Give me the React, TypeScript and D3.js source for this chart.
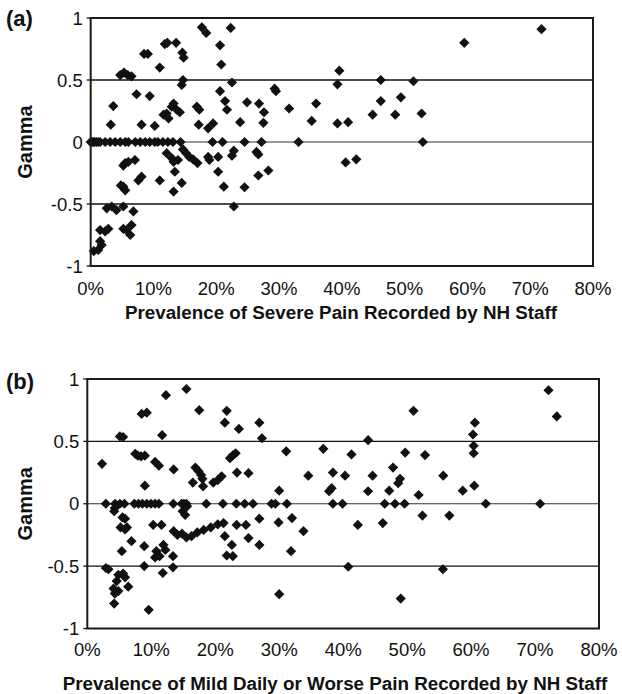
import React, { useRef, useEffect } from "react";
import * as d3 from "d3";

// [prevalence %, gamma]
const severePoints: [number, number][] = [
  [17.7, 0.925], [18.4, 0.88], [22.3, 0.92], [20.6, 0.78], [20.8, 0.625],
  [11.8, 0.79], [12.2, 0.8], [13.6, 0.8], [14.6, 0.72], [14.8, 0.68],
  [8.5, 0.71], [9.1, 0.71], [11.0, 0.6],
  [4.7, 0.54], [5.3, 0.56], [5.9, 0.54], [6.5, 0.53],
  [14.7, 0.5], [14.5, 0.46], [22.5, 0.48],
  [7.3, 0.385], [9.4, 0.37], [3.6, 0.29],
  [20.6, 0.41], [21.4, 0.33], [21.7, 0.26], [24.9, 0.32], [26.8, 0.31], [27.6, 0.24],
  [29.3, 0.43], [29.5, 0.41], [31.6, 0.27], [16.9, 0.285], [17.3, 0.26],
  [11.6, 0.22], [12.1, 0.23], [12.4, 0.19], [12.9, 0.285], [13.2, 0.31], [13.7, 0.26], [14.2, 0.24],
  [3.2, 0.14], [8.1, 0.14], [10.2, 0.13], [17.2, 0.14], [18.7, 0.11], [19.5, 0.15],
  [23.8, 0.16], [27.5, 0.155], [35.2, 0.17], [35.9, 0.31],
  [71.8, 0.91], [59.5, 0.8], [39.6, 0.575], [39.3, 0.465], [46.2, 0.5], [51.4, 0.49],
  [39.3, 0.15], [41.0, 0.16], [44.9, 0.22], [46.2, 0.33], [48.5, 0.22], [49.4, 0.36], [52.7, 0.23],
  [0, 0], [0.2, 0], [0.4, 0], [0.6, 0], [0.9, 0], [1.2, 0], [1.5, 0], [2.3, 0], [3.1, 0],
  [3.9, 0], [4.7, 0], [5.5, 0], [6.0, 0], [7.1, 0], [7.9, 0], [8.7, 0], [9.4, 0], [10.2, 0],
  [10.7, 0], [11.5, 0], [12.3, 0], [13.1, 0], [14.3, 0], [19.4, 0], [21.0, 0], [24.5, 0],
  [27.2, 0], [33.1, 0], [52.9, 0],
  [14.7, -0.06], [15.2, -0.09], [15.7, -0.12], [16.3, -0.14], [17.0, -0.17],
  [12.1, -0.09], [12.9, -0.13], [13.2, -0.16], [13.9, -0.145], [13.4, -0.24],
  [14.5, -0.33], [13.2, -0.4], [11.0, -0.31],
  [5.2, -0.19], [5.5, -0.17], [6.0, -0.16], [7.05, -0.145], [8.1, -0.28], [7.6, -0.31],
  [5.2, -0.36], [5.5, -0.39], [4.8, -0.35],
  [18.7, -0.12], [18.9, -0.145], [20.3, -0.12], [20.3, -0.24], [21.2, -0.36],
  [22.5, -0.11], [22.8, -0.07], [22.8, -0.52], [24.5, -0.365],
  [26.4, -0.08], [26.7, -0.1], [26.7, -0.27], [28.3, -0.23],
  [2.55, -0.535], [3.35, -0.52], [4.1, -0.55], [5.2, -0.52], [6.8, -0.56],
  [1.5, -0.71], [2.3, -0.72], [2.8, -0.7], [5.2, -0.7], [5.7, -0.71], [6.3, -0.75], [6.5, -0.67],
  [1.2, -0.87], [1.75, -0.83], [1.5, -0.8], [0.5, -0.88],
  [40.6, -0.165], [42.3, -0.14],
];

// [prevalence %, gamma]
const mildPoints: [number, number][] = [
  [2.3, 0.32], [5.1, 0.54], [5.6, 0.535], [8.5, 0.72], [9.3, 0.73],
  [7.5, 0.4], [7.9, 0.385], [8.4, 0.38], [9.0, 0.385], [10.6, 0.335], [11.2, 0.305],
  [13.5, 0.275], [9.0, 0.145], [11.7, 0.55], [12.3, 0.87], [15.5, 0.92], [17.5, 0.75],
  [16.9, 0.29], [17.4, 0.26], [17.8, 0.23], [16.5, 0.17], [18.1, 0.14], [18.0, 0.2],
  [19.7, 0.17], [20.4, 0.19], [21.0, 0.22],
  [21.8, 0.745], [21.5, 0.65], [23.7, 0.6], [26.9, 0.65], [27.3, 0.525],
  [22.3, 0.365], [22.8, 0.39], [23.2, 0.405], [23.4, 0.25], [25.2, 0.245],
  [30.0, 0.105], [31.1, 0.42], [34.55, 0.225], [36.9, 0.44], [38.4, 0.25], [40.3, 0.225],
  [37.8, 0.1], [38.2, 0.125], [41.3, 0.395], [43.9, 0.51], [43.9, 0.1], [44.6, 0.225],
  [47.8, 0.29], [47.2, 0.105], [48.6, 0.165], [48.9, 0.2], [51.0, 0.745], [49.7, 0.41],
  [52.8, 0.39], [51.8, 0.07], [55.65, 0.225], [58.7, 0.105], [60.5, 0.145],
  [60.6, 0.65], [60.3, 0.555], [60.4, 0.465], [60.4, 0.405], [72.1, 0.91], [73.4, 0.7],
  [2.9, 0], [4.35, 0], [5.1, 0], [5.8, 0], [7.35, 0], [8.0, 0], [8.6, 0], [9.3, 0],
  [9.95, 0], [10.6, 0], [11.2, 0], [13.45, 0], [14.75, 0], [15.1, 0], [15.5, 0], [18.6, 0],
  [21.2, 0], [23.3, 0], [24.6, 0], [25.9, 0], [28.8, 0], [29.4, 0], [31.2, 0],
  [38.4, 0], [39.9, 0], [46.5, 0], [48.1, 0], [49.6, 0], [62.3, 0], [70.8, 0],
  [4.2, -0.06], [4.3, -0.035], [5.5, -0.11], [5.9, -0.12], [5.2, -0.19], [5.9, -0.205],
  [6.2, -0.19], [5.4, -0.38], [6.9, -0.3], [8.9, -0.34], [8.9, -0.5], [2.9, -0.515], [3.3, -0.525],
  [4.85, -0.57], [5.6, -0.56], [4.6, -0.62], [6.4, -0.665], [4.1, -0.68], [4.3, -0.72],
  [4.85, -0.7], [5.9, -0.59], [4.2, -0.8], [9.6, -0.85],
  [10.3, -0.17], [11.6, -0.17],
  [10.8, -0.38], [10.6, -0.43], [11.3, -0.42], [11.9, -0.33], [12.2, -0.37],
  [13.4, -0.42], [13.4, -0.51], [11.8, -0.555],
  [13.5, -0.22], [14.1, -0.25], [14.8, -0.24], [15.5, -0.27], [16.3, -0.26],
  [17.2, -0.23], [18.2, -0.21], [19.3, -0.19], [20.4, -0.165], [21.3, -0.155],
  [14.9, -0.06], [15.3, -0.09], [15.6, -0.02],
  [23.35, -0.17], [24.8, -0.17], [26.9, -0.12], [21.5, -0.26], [22.6, -0.33],
  [21.8, -0.415], [22.75, -0.42], [25.2, -0.275], [26.9, -0.33],
  [29.9, -0.15], [32.0, -0.115], [33.8, -0.22], [31.85, -0.38], [30.0, -0.725],
  [40.8, -0.505], [42.3, -0.17], [46.2, -0.155], [52.4, -0.095], [56.6, -0.095],
  [55.6, -0.525], [49.0, -0.76],
];

const xTicks = [0, 10, 20, 30, 40, 50, 60, 70, 80];
const yTicks = [-1, -0.5, 0, 0.5, 1];
const gridLines = [-0.5, 0, 0.5];

const panels = [
  {
    tag: "(a)",
    points: severePoints,
    title: "Prevalence of Severe Pain Recorded by NH Staff",
    box: { left: 90.7, right: 593, top: 18, bottom: 266 },
    tagY: 26,
    tickY: 295,
    titleX: 341,
    titleY: 319,
  },
  {
    tag: "(b)",
    points: mildPoints,
    title: "Prevalence of Mild Daily or Worse Pain Recorded by NH Staff",
    box: { left: 87.3, right: 599, top: 379, bottom: 628.5 },
    tagY: 389,
    tickY: 656,
    titleX: 335,
    titleY: 690,
  },
];

const font = "'Liberation Sans', Arial, Helvetica, sans-serif";

const App = () => {
  const ref = useRef<SVGSVGElement>(null);

  useEffect(() => {
    const svg = d3.select(ref.current);
    svg.selectAll("*").remove();

    const diamond = d3.symbol().type(d3.symbolSquare).size(52)();

    panels.forEach((p) => {
      const { left, right, top, bottom } = p.box;
      const x = d3.scaleLinear().domain([0, 80]).range([left, right]);
      const y = d3.scaleLinear().domain([-1, 1]).range([bottom, top]);

      const g = svg.append("g");

      // gridlines
      g.selectAll(".grid")
        .data(gridLines)
        .enter()
        .append("line")
        .attr("x1", left)
        .attr("x2", right)
        .attr("y1", (d) => y(d))
        .attr("y2", (d) => y(d))
        .attr("stroke", (d) => (d === 0 ? "#333" : "#111"))
        .attr("stroke-width", (d) => (d === 0 ? 1 : 1.3));

      // left ticks
      g.selectAll(".ytick")
        .data(yTicks)
        .enter()
        .append("line")
        .attr("x1", left - 4)
        .attr("x2", left)
        .attr("y1", (d) => y(d))
        .attr("y2", (d) => y(d))
        .attr("stroke", "#111")
        .attr("stroke-width", 1.3);

      // points
      g.selectAll(".pt")
        .data(p.points)
        .enter()
        .append("path")
        .attr("d", diamond)
        .attr("transform", (d) => `translate(${x(d[0])},${y(d[1])}) rotate(45)`)
        .attr("fill", "#111");

      // frame
      g.append("rect")
        .attr("x", left)
        .attr("y", top)
        .attr("width", right - left)
        .attr("height", bottom - top)
        .attr("fill", "none")
        .attr("stroke", "#1a1a1a")
        .attr("stroke-width", 2);

      // y labels
      g.selectAll(".ylab")
        .data(yTicks)
        .enter()
        .append("text")
        .attr("x", left - 8)
        .attr("y", (d) => y(d))
        .attr("dy", "0.36em")
        .attr("text-anchor", "end")
        .attr("font-family", font)
        .attr("font-size", 18.5)
        .attr("fill", "#111")
        .text((d) => String(d));

      // x labels
      g.selectAll(".xlab")
        .data(xTicks)
        .enter()
        .append("text")
        .attr("x", (d) => x(d))
        .attr("y", p.tickY)
        .attr("text-anchor", "middle")
        .attr("font-family", font)
        .attr("font-size", 18.5)
        .attr("fill", "#111")
        .text((d) => `${d}%`);

      g.append("text")
        .attr("x", p.titleX)
        .attr("y", p.titleY)
        .attr("text-anchor", "middle")
        .attr("font-family", font)
        .attr("font-size", 18.8)
        .attr("font-weight", "bold")
        .attr("fill", "#111")
        .text(p.title);

      g.append("text")
        .attr("transform", `translate(25,${y(0)}) rotate(-90)`)
        .attr("dy", "0.36em")
        .attr("text-anchor", "middle")
        .attr("font-family", font)
        .attr("font-size", 20)
        .attr("font-weight", "bold")
        .attr("fill", "#111")
        .text("Gamma");

      g.append("text")
        .attr("x", 6)
        .attr("y", p.tagY)
        .attr("font-family", font)
        .attr("font-size", 22)
        .attr("font-weight", "bold")
        .attr("fill", "#111")
        .text(p.tag);
    });
  }, []);

  return (
    <svg
      ref={ref}
      width={622}
      height={694}
      style={{ position: "absolute", left: 0, top: 0, background: "#fff" }}
    ></svg>
  );
};

export default App;
